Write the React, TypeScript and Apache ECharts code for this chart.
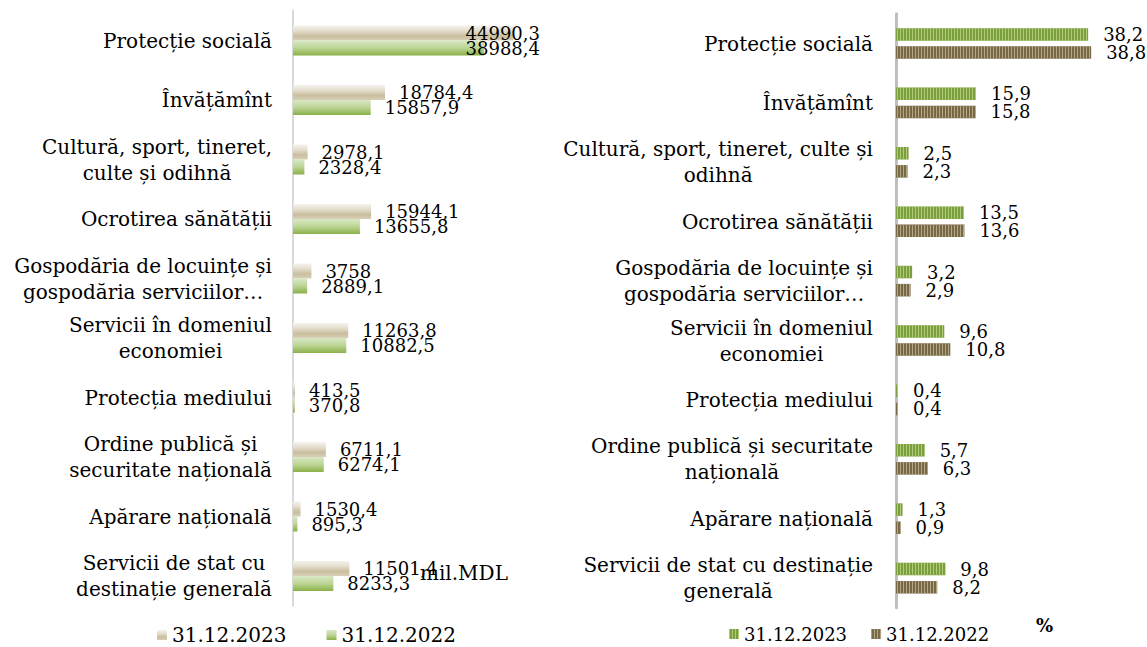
import React, { useEffect, useRef } from "react";
import * as echarts from "echarts";

const categoriesLeft = [
  "Protecție socială",
  "Învățămînt",
  "Cultură, sport, tineret,\nculte și odihnă",
  "Ocrotirea sănătății",
  "Gospodăria de locuințe și\ngospodăria serviciilor…",
  "Servicii în domeniul\neconomiei",
  "Protecția mediului",
  "Ordine publică și\nsecuritate națională",
  "Apărare națională",
  "Servicii de stat cu\ndestinație generală",
];
const categoriesRight = [
  "Protecție socială",
  "Învățămînt",
  "Cultură, sport, tineret, culte și\nodihnă",
  "Ocrotirea sănătății",
  "Gospodăria de locuințe și\ngospodăria serviciilor…",
  "Servicii în domeniul\neconomiei",
  "Protecția mediului",
  "Ordine publică și securitate\nnațională",
  "Apărare națională",
  "Servicii de stat cu destinație\ngenerală",
];
const mdl2023 = [44990.3, 18784.4, 2978.1, 15944.1, 3758, 11263.8, 413.5, 6711.1, 1530.4, 11501.4];
const mdl2022 = [38988.4, 15857.9, 2328.4, 13655.8, 2889.1, 10882.5, 370.8, 6274.1, 895.3, 8233.3];
const pct2023 = [38.2, 15.9, 2.5, 13.5, 3.2, 9.6, 0.4, 5.7, 1.3, 9.8];
const pct2022 = [38.8, 15.8, 2.3, 13.6, 2.9, 10.8, 0.4, 6.3, 0.9, 8.2];
const legendNames: Record<string, string> = {
  L2023: "31.12.2023",
  L2022: "31.12.2022",
  R2023: "31.12.2023",
  R2022: "31.12.2022",
};

const FONT = "DejaVu Serif";
const fmt = (p: any) => String(p.value).replace(".", ",");
const LEFT_LIMIT = 540;

function catLabel(size: number, lh: number) {
  return {
    margin: 0,
    fontFamily: FONT,
    fontSize: size,
    color: "#000",
    formatter: (v: string) =>
      v
        .split("\n")
        .map((l) => `{c|${l}}`)
        .join("\n"),
    rich: { c: { align: "center", fontFamily: FONT, fontSize: size, lineHeight: lh, color: "#000" } },
  };
}

export default function App() {
  const ref = useRef<HTMLDivElement>(null);
  useEffect(() => {
    if (!ref.current) return;
    const chart = echarts.init(ref.current, null, { renderer: "svg" });
    const beige = new echarts.graphic.LinearGradient(0, 0, 0, 1, [
      { offset: 0, color: "#f5f3ed" },
      { offset: 0.35, color: "#e4dece" },
      { offset: 0.7, color: "#c9be9e" },
      { offset: 1, color: "#d8cfb6" },
    ]);
    const green = new echarts.graphic.LinearGradient(0, 0, 0, 1, [
      { offset: 0, color: "#d9e8c6" },
      { offset: 0.5, color: "#bcd594" },
      { offset: 1, color: "#8ab048" },
    ]);
    const valLabelL = {
      show: true,
      position: "right",
      distance: 14,
      fontFamily: FONT,
      fontSize: 18,
      color: "#000",
      formatter: fmt,
    };
    const valLabelR = { ...valLabelL, distance: 15, fontSize: 18 };
    const clampLeft = (p: any) => {
      const r = p.labelRect;
      if (r.x + r.width > LEFT_LIMIT) return { dx: LEFT_LIMIT - (r.x + r.width) };
      return {};
    };
    const option: any = {
      animation: false,
      grid: [
        { left: 293, top: 10.75, width: 245, height: 595 },
        { left: 896, top: 13.8, width: 201.2, height: 594 },
      ],
      xAxis: [
        { type: "value", gridIndex: 0, min: 0, max: 50000, show: false },
        { type: "value", gridIndex: 1, min: 0, max: 40, show: false },
      ],
      yAxis: [
        {
          type: "category",
          gridIndex: 0,
          inverse: true,
          data: categoriesLeft,
          axisLine: { show: true, lineStyle: { color: "#d9d9d9", width: 2 } },
          axisTick: { show: false },
          axisLabel: { ...catLabel(20, 26), margin: 21 },
        },
        {
          type: "category",
          gridIndex: 1,
          inverse: true,
          data: categoriesRight,
          axisLine: { show: true, lineStyle: { color: "#bfbfbf", width: 3 } },
          axisTick: { show: false },
          axisLabel: { ...catLabel(20, 26), margin: 23 },
        },
      ],
      legend: [
        {
          data: ["L2023", "L2022"],
          left: 152,
          top: 620,
          itemWidth: 10,
          itemHeight: 10,
          itemGap: 40,
          icon: "rect",
          formatter: (n: string) => legendNames[n],
          textStyle: { fontFamily: FONT, fontSize: 20, color: "#000" },
        },
        {
          data: ["R2023", "R2022"],
          left: 724,
          top: 620,
          itemWidth: 10,
          itemHeight: 10,
          itemGap: 24,
          icon: "rect",
          formatter: (n: string) => legendNames[n],
          textStyle: { fontFamily: FONT, fontSize: 18, color: "#000" },
        },
      ],
      series: [
        {
          name: "L2023",
          type: "bar",
          xAxisIndex: 0,
          yAxisIndex: 0,
          data: mdl2023,
          barWidth: 15,
          barGap: "0%",
          itemStyle: { color: beige },
          label: valLabelL,
          labelLayout: clampLeft,
        },
        {
          name: "L2022",
          type: "bar",
          xAxisIndex: 0,
          yAxisIndex: 0,
          data: mdl2022,
          barWidth: 15,
          barGap: "0%",
          itemStyle: { color: green },
          label: valLabelL,
          labelLayout: clampLeft,
        },
        {
          name: "R2023",
          type: "bar",
          xAxisIndex: 1,
          yAxisIndex: 1,
          data: pct2023,
          barWidth: 12.5,
          barGap: "45%",
          itemStyle: {
            color: "#7c9f3e",
            decal: { symbol: "rect", symbolSize: 1, dashArrayX: [1, 2], dashArrayY: [6, 0], color: "#b0cc7a" },
          },
          label: valLabelR,
        },
        {
          name: "R2022",
          type: "bar",
          xAxisIndex: 1,
          yAxisIndex: 1,
          data: pct2022,
          barWidth: 12.5,
          barGap: "45%",
          itemStyle: {
            color: "#776946",
            decal: { symbol: "rect", symbolSize: 1, dashArrayX: [1, 2], dashArrayY: [6, 0], color: "#b3a687" },
          },
          label: valLabelR,
        },
      ],
      graphic: [
        {
          type: "text",
          left: 420,
          top: 563,
          style: { text: "mil.MDL", fontFamily: FONT, fontSize: 20, fill: "#000" },
        },
        {
          type: "text",
          left: 1036,
          top: 616,
          style: { text: "%", fontFamily: FONT, fontSize: 18, fontWeight: "bold", fill: "#000" },
        },
      ],
    };
    chart.setOption(option);
    return () => chart.dispose();
  }, []);
  return (
    <div
      ref={ref}
      style={{ position: "fixed", left: 0, top: 0, width: 1147, height: 647, background: "#fff" }}
    />
  );
}
